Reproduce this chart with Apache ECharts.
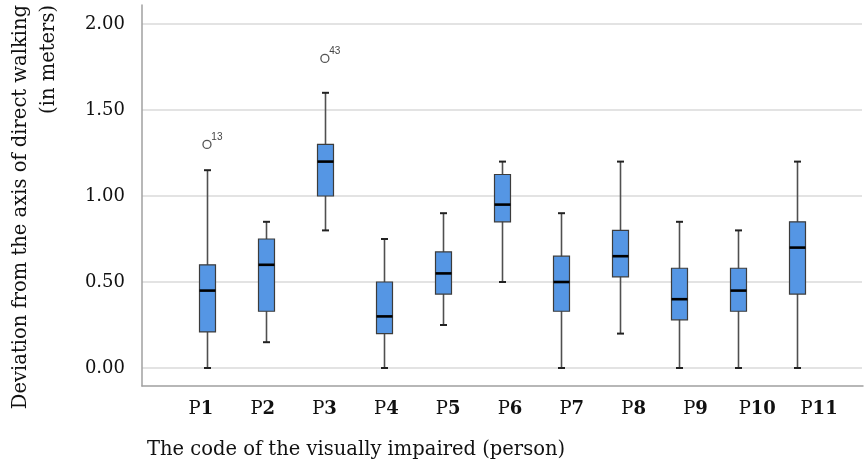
<!DOCTYPE html>
<html>
<head>
<meta charset="utf-8">
<script src="https://cdn.jsdelivr.net/npm/echarts@6/dist/echarts.min.js"></script>
<style>
  html, body { margin: 0; padding: 0; background: #fff; }
  #main { width: 865px; height: 468px; }
</style>
</head>
<body>
<div id="main"></div>
<script>
// 数据
const categories = ['P1', 'P2', 'P3', 'P4', 'P5', 'P6', 'P7', 'P8', 'P9', 'P10', 'P11']
const mins    = [0.00, 0.15, 0.80, 0.00, 0.25, 0.50, 0.00, 0.20, 0.00, 0.00, 0.00]
const q1s     = [0.21, 0.33, 1.00, 0.20, 0.43, 0.85, 0.33, 0.53, 0.28, 0.33, 0.43]
const medians = [0.45, 0.60, 1.20, 0.30, 0.55, 0.95, 0.50, 0.65, 0.40, 0.45, 0.70]
const q3s     = [0.60, 0.75, 1.30, 0.50, 0.675, 1.125, 0.65, 0.80, 0.58, 0.58, 0.85]
const maxs    = [1.15, 0.85, 1.60, 0.75, 0.90, 1.20, 0.90, 1.20, 0.85, 0.80, 1.20]
const outlierCats   = ['P1', 'P3']
const outlierValues = [1.30, 1.80]
const outlierIds    = ['13', '43']
const yTickLabels = ['0.00', '0.50', '1.00', '1.50', '2.00']

const serif = '"DejaVu Serif", "Liberation Serif", serif'
const boxData = categories.map((c, i) => [i, mins[i], q1s[i], medians[i], q3s[i], maxs[i]])
const outlierData = outlierCats.map((c, i) => [c, outlierValues[i], outlierIds[i]])

const renderBox = (params, api) => {
  const idx = api.value(0)
  const lo = api.coord([idx, api.value(1)])
  const b1 = api.coord([idx, api.value(2)])
  const md = api.coord([idx, api.value(3)])
  const b3 = api.coord([idx, api.value(4)])
  const hi = api.coord([idx, api.value(5)])
  const cx = Math.round(lo[0]) + 0.5
  const bw = 16
  const cw = 7
  return {
    type: 'group',
    children: [
      { type: 'line', shape: { x1: cx, y1: hi[1], x2: cx, y2: lo[1] }, style: { stroke: '#505050', lineWidth: 1.6 } },
      { type: 'line', shape: { x1: cx - cw / 2, y1: hi[1], x2: cx + cw / 2, y2: hi[1] }, style: { stroke: '#222', lineWidth: 2 } },
      { type: 'line', shape: { x1: cx - cw / 2, y1: lo[1], x2: cx + cw / 2, y2: lo[1] }, style: { stroke: '#222', lineWidth: 2 } },
      { type: 'rect', shape: { x: cx - bw / 2, y: b3[1], width: bw, height: b1[1] - b3[1] }, style: { fill: '#5596e4', stroke: '#3c3c3c', lineWidth: 1.2 } },
      { type: 'line', shape: { x1: cx - bw / 2, y1: md[1], x2: cx + bw / 2, y2: md[1] }, style: { stroke: '#000', lineWidth: 2.6 } },
    ],
  }
}

const myChart = echarts.init(document.getElementById('main'))
myChart.setOption({
  animation: false,
  grid: [
    // 0: 外框坐标轴
    { left: 142, right: 2, top: 5, bottom: 82 },
    // 1: 箱线图
    { left: 177.5, right: 39, top: 24, bottom: 100 },
    // 2: 网格线和y轴标签
    { left: 142, right: 3, top: 24, bottom: 100 },
    // 3: x轴标签
    { left: 170, right: 15, top: 5, bottom: 82 },
  ],
  xAxis: [
    {
      gridIndex: 0, type: 'value', min: 0, max: 1,
      axisLine: { show: true, lineStyle: { color: '#a0a0a0', width: 1.5 } },
      axisTick: { show: false }, axisLabel: { show: false }, splitLine: { show: false },
    },
    { gridIndex: 1, type: 'category', data: categories, show: false },
    { gridIndex: 2, type: 'value', min: 0, max: 1, show: false },
    {
      gridIndex: 3, type: 'category', data: categories,
      axisLine: { show: false }, axisTick: { show: false },
      axisLabel: {
        interval: 0,
        margin: 14,
        formatter: v => `{p|P}{n|${v.slice(1)}}`,
        rich: {
          p: { fontFamily: serif, fontSize: 18, color: '#111' },
          n: { fontFamily: serif, fontSize: 18, fontWeight: 'bold', color: '#111' },
        },
      },
    },
  ],
  yAxis: [
    {
      gridIndex: 0, type: 'value', min: 0, max: 1,
      axisLine: { show: true, lineStyle: { color: '#a0a0a0', width: 1.5 } },
      axisTick: { show: false }, axisLabel: { show: false }, splitLine: { show: false },
    },
    { gridIndex: 1, type: 'value', min: 0, max: 2, show: false },
    {
      gridIndex: 2, type: 'value', min: 0, max: 2, interval: 0.5,
      axisLine: { show: false }, axisTick: { show: false },
      axisLabel: {
        margin: 17, fontFamily: serif, fontSize: 18, color: '#111',
        formatter: v => yTickLabels[Math.round(v / 0.5)],
      },
      splitLine: { lineStyle: { color: '#dadada', width: 1.5 } },
    },
    { gridIndex: 3, type: 'value', show: false },
  ],
  graphic: [
    {
      type: 'text', x: 7, y: 5, rotation: Math.PI / 2,
      style: {
        text: 'Deviation from the axis of direct walking\n(in meters)',
        align: 'right', verticalAlign: 'top', lineHeight: 28,
        font: `19.5px ${serif}`, fill: '#111',
      },
    },
    {
      type: 'text', x: 147, y: 440,
      style: {
        text: 'The code of the visually impaired (person)',
        align: 'left', verticalAlign: 'top',
        font: `19.5px ${serif}`, fill: '#111',
      },
    },
  ],
  series: [
    {
      type: 'custom',
      xAxisIndex: 1,
      yAxisIndex: 1,
      renderItem: renderBox,
      encode: { x: 0, y: [1, 2, 3, 4, 5] },
      data: boxData,
    },
    {
      type: 'scatter',
      xAxisIndex: 1,
      yAxisIndex: 1,
      symbol: 'circle',
      symbolSize: 8,
      itemStyle: { color: '#fff', borderColor: '#555', borderWidth: 1.3, opacity: 1 },
      label: {
        show: true,
        position: [9, -8],
        formatter: p => p.value[2],
        fontFamily: 'Arial, "Liberation Sans", sans-serif',
        fontSize: 10,
        color: '#444',
      },
      data: outlierData,
    },
  ],
})
</script>
</body>
</html>
